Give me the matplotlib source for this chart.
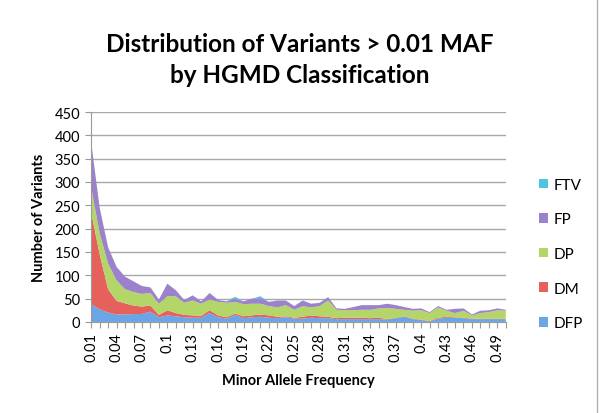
import numpy as np
import matplotlib
matplotlib.use("Agg")
import matplotlib.pyplot as plt
from matplotlib.lines import Line2D
from matplotlib.patches import Patch

plt.rcParams['font.family'] = ['Lato', 'DejaVu Sans']

# minor allele frequency categories 0.01 .. 0.50
maf = [round(0.01 * k, 2) for k in range(1, 51)]

dfp = [38, 27, 20, 16, 16, 17, 17, 22, 10, 14, 12, 10, 9, 9, 19, 10, 7, 15, 8, 10,
       11, 9, 8, 10, 7, 7, 9, 8, 8, 6, 6, 6, 6, 6, 6, 5, 8, 11, 6, 4,
       1, 7, 9, 9, 8, 6, 6, 6, 6, 6]
dm = [197, 118, 50, 29, 24, 18, 16, 13, 5, 11, 7, 5, 5, 4, 6, 4, 3, 3, 4, 4,
      5, 5, 3, 2, 2, 4, 5, 4, 3, 2, 3, 3, 3, 2, 3, 1, 1, 1, 1, 1,
      1, 2, 2, 1, 1, 1, 1, 1, 1, 1]
dp = [53, 45, 55, 44, 30, 29, 27, 27, 24, 30, 36, 26, 32, 26, 23, 29, 31, 25, 26, 25,
      23, 20, 20, 24, 17, 23, 17, 22, 35, 18, 16, 16, 17, 18, 20, 24, 19, 14, 17, 20,
      17, 22, 13, 9, 15, 7, 12, 14, 18, 17]
fp = [97, 55, 35, 29, 27, 23, 17, 12, 9, 27, 13, 6, 11, 5, 14, 4, 3, 7, 6, 11,
      12, 9, 15, 10, 8, 12, 8, 7, 7, 3, 3, 7, 10, 10, 7, 9, 8, 6, 4, 4,
      2, 3, 2, 9, 5, 2, 5, 4, 4, 2]
ftv = [0, 0, 0, 0, 0, 0, 0, 0, 0, 0, 0, 0, 0, 0, 0, 0, 0, 4, 0, 0,
       4, 0, 0, 0, 0, 0, 0, 0, 0, 0, 0, 0, 0, 0, 0, 0, 0, 0, 0, 0,
       0, 0, 0, 0, 0, 0, 0, 0, 0, 0]

names = ['DFP', 'DM', 'DP', 'FP', 'FTV']
colors = ['#6aa5e6', '#e6615b', '#b4d567', '#9c82cb', '#4fc4de']

fig = plt.figure(figsize=(6, 4.14), dpi=100)
ax = fig.add_axes([0.152, 0.22, 0.691, 0.507])

x = np.arange(len(maf))
ax.stackplot(x, dfp, dm, dp, fp, ftv, colors=colors, linewidth=0)

ax.set_xlim(0, len(maf) - 1)
ax.set_ylim(0, 450)
ax.set_yticks(range(0, 451, 50))
ax.yaxis.grid(True, color='#a8a8a8', linewidth=1)
ax.set_axisbelow(True)

ax.set_xticks(x, minor=True)
ax.set_xticks(x[::3])
ax.set_xticklabels(['%g' % v for v in maf[::3]], rotation=90, fontsize=10.5)
ax.tick_params(axis='x', which='both', length=4, color='#9a9a9a', width=0.8, pad=3)
ax.tick_params(axis='y', length=4, color='#9a9a9a', labelsize=10.5, pad=4)

for s in ['top', 'right']:
    ax.spines[s].set_visible(False)
ax.spines['left'].set_color('#9a9a9a')
ax.spines['bottom'].set_color('#9a9a9a')

ax.set_xlabel('Minor Allele Frequency', fontsize=10.5, fontweight='bold', labelpad=9)
ax.set_ylabel('Number of Variants', fontsize=10.5, fontweight='bold', labelpad=6)

fig.text(0.5, 0.855, 'Distribution of Variants > 0.01 MAF\nby HGMD Classification',
         ha='center', va='center', fontsize=17.5, fontweight='bold', linespacing=1.45)

handles = [Patch(facecolor=c, edgecolor='none') for c in colors[::-1]]
leg = fig.legend(handles, names[::-1], loc='center left', bbox_to_anchor=(0.875, 0.384),
                 frameon=False, fontsize=11, handlelength=0.6, handleheight=0.6,
                 handletextpad=0.4, labelspacing=1.35)

fig.add_artist(Line2D([0.995, 0.995], [0, 1], transform=fig.transFigure,
                      color='#b0b0b0', linewidth=1))

fig.savefig('out.png', dpi=100)
